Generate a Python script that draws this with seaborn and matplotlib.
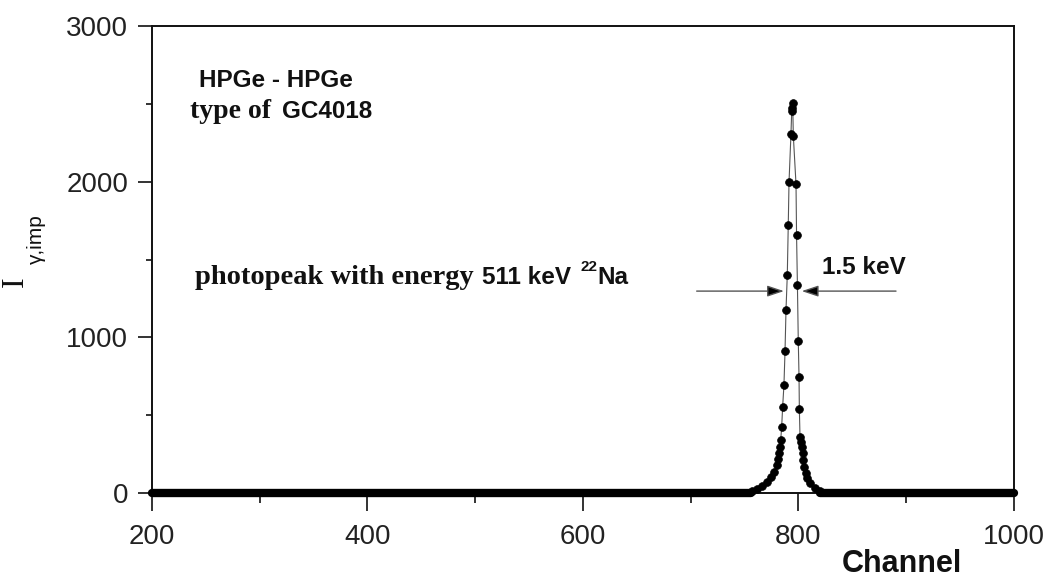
import matplotlib
matplotlib.use("Agg")
import matplotlib.pyplot as plt
import numpy as np
import pandas as pd
import seaborn as sns

# --- data ---
# flat background (counts ~0) on both sides of the photopeak
left_bg_channels = np.arange(200, 757)
right_bg_channels = np.arange(820, 1001)
bg_counts_left = np.zeros(len(left_bg_channels))
bg_counts_right = np.zeros(len(right_bg_channels))

# photopeak points (channel, counts)
peak_channels = [756.6, 761.2, 765.8, 770.5, 774.2, 777.3, 779.8, 781.3, 782.2,
                 782.8, 783.5, 784.4, 785.3, 786.5, 787.5, 788.4, 789.6, 790.5,
                 791.2, 793.0, 793.7, 794.1, 794.6, 795.2, 797.7, 798.2, 799.0,
                 799.8, 800.5, 800.8, 801.4, 802.0, 803.0, 803.9, 804.5, 805.4,
                 807.0, 808.2, 810.7, 815.3, 820.0]
peak_counts = [15, 28, 45, 70, 100, 135, 178, 220, 255,
               297, 340, 426, 554, 694, 912, 1175, 1400, 1721,
               1996, 2305, 2452, 2475, 2503, 2295, 1983, 1657, 1336,
               978, 743, 538, 362, 329, 297, 255, 212, 169,
               126, 94, 62, 30, 15]

xticks = [200, 400, 600, 800, 1000]
yticks = [0, 1000, 2000, 3000]

peak_df = pd.DataFrame({"channel": peak_channels, "counts": peak_counts})
bg_df = pd.DataFrame({
    "channel": np.concatenate([left_bg_channels, right_bg_channels]),
    "counts": np.concatenate([bg_counts_left, bg_counts_right]),
    "segment": ["left"] * len(left_bg_channels) + ["right"] * len(right_bg_channels),
})

sns.set_style("ticks")
plt.rcParams["font.family"] = ["Liberation Sans Narrow", "Liberation Sans", "DejaVu Sans"]

SANS = ["Liberation Sans", "DejaVu Sans"]
SERIF = ["Liberation Serif", "DejaVu Serif"]

fig = plt.figure(figsize=(10.43, 5.77), dpi=100)
ax = fig.add_axes([0.1457, 0.1456, 0.8265, 0.8093])

# background: channels packed so densely that the dots merge into a thick band
sns.lineplot(data=bg_df, x="channel", y="counts", units="segment", ax=ax,
             estimator=None, color="black", linewidth=6,
             clip_on=False, zorder=3, solid_capstyle="round")
# photopeak: dots joined by a thin grey line
sns.lineplot(data=peak_df, x="channel", y="counts", ax=ax, estimator=None,
             color="#555555", linewidth=0.8, marker="o", markersize=5.6,
             markerfacecolor="black", markeredgecolor="black",
             markeredgewidth=0.5, clip_on=False, zorder=3)

ax.set_xlim(200, 1000)
ax.set_ylim(0, 3000)
ax.set_xticks(xticks)
ax.set_yticks(yticks)
ax.set_xticks(np.arange(300, 1000, 200), minor=True)
ax.set_yticks(np.arange(500, 3000, 1000), minor=True)
ax.set_xlabel("")
ax.set_ylabel("")

for s in ax.spines.values():
    s.set_visible(True)
    s.set_linewidth(1.4)
    s.set_color("#111111")

ax.tick_params(axis="both", which="both", direction="out", width=1.2,
               color="#111111", labelcolor="#222222", labelsize=20,
               top=False, right=False)
ax.tick_params(axis="x", which="major", length=13, pad=9)
ax.tick_params(axis="x", which="minor", length=7)
ax.tick_params(axis="y", which="major", length=10, pad=7)
ax.tick_params(axis="y", which="minor", length=4)

# annotations inside the plot
ax.text(243.6, 2608, "HPGe - HPGe", family=SANS, weight="bold", fontsize=17.5,
        ha="left", va="baseline", color="#111111")
t1 = ax.text(235.3, 2410, "type of", family=SERIF, weight="bold", fontsize=20,
             ha="left", va="baseline", color="#111111")
ax.annotate("GC4018", xy=(1, 2410), xycoords=(t1, "data"), xytext=(8, 0),
            textcoords="offset points", family=SANS, weight="bold",
            fontsize=17.5, ha="left", va="baseline", color="#111111")

p1 = ax.text(239.9, 1340, "photopeak with energy", family=SERIF, weight="bold",
             fontsize=20.5, ha="left", va="baseline", color="#111111")
p2 = ax.annotate("511 keV", xy=(1, 1340), xycoords=(p1, "data"), xytext=(6, 0),
                 textcoords="offset points", family=SANS, weight="bold",
                 fontsize=17.5, ha="left", va="baseline", color="#111111")
p3 = ax.annotate("22", xy=(1, 1340), xycoords=(p2, "data"), xytext=(7, 10),
                 textcoords="offset points", family=SANS, weight="bold",
                 fontsize=11, ha="left", va="baseline", color="#111111")
ax.annotate("Na", xy=(1, 1340), xycoords=(p3, "data"), xytext=(0, 0),
            textcoords="offset points", family=SANS, weight="bold",
            fontsize=17.5, ha="left", va="baseline", color="#111111")

ax.text(821.8, 1407, "1.5 keV", family=SANS, weight="bold", fontsize=17.5,
        ha="left", va="baseline", color="#111111")

# FWHM arrows
arrow_style = "-|>,head_length=0.42,head_width=0.14"
ax.annotate("", xy=(786.5, 1297), xytext=(705.5, 1297),
            arrowprops=dict(arrowstyle=arrow_style, mutation_scale=24,
                            ec="#555555", fc="black", lw=1,
                            shrinkA=0, shrinkB=0), zorder=4)
ax.annotate("", xy=(803.0, 1297), xytext=(890.5, 1297),
            arrowprops=dict(arrowstyle=arrow_style, mutation_scale=24,
                            ec="#555555", fc="black", lw=1,
                            shrinkA=0, shrinkB=0), zorder=4)

# axis labels
fig.text(0.865, 0.0092, "Channel", family=SANS, weight="bold", fontsize=22,
         ha="center", va="baseline", color="#111111")
fig.text(15 / 1043, 1 - 282 / 577, "I", family=SERIF, fontsize=23,
         rotation=90, ha="center", va="center", color="#111111")
fig.text(36 / 1043, 1 - 239 / 577, "γ,imp", family=SANS, fontsize=15,
         rotation=90, ha="center", va="center", color="#111111")

fig.savefig("out.png", dpi=100)
